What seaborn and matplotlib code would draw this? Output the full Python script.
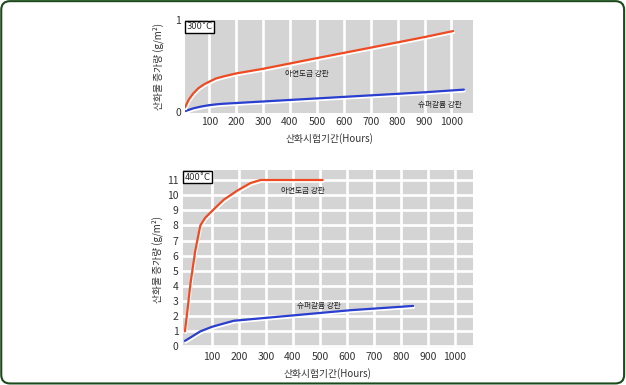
import numpy as np
import pandas as pd
import matplotlib
matplotlib.use('Agg')
import matplotlib.pyplot as plt
import matplotlib.patheffects as pe
from matplotlib.patches import FancyBboxPatch
import seaborn as sns

sns.set_style("darkgrid", {"axes.facecolor": "#d4d4d4", "grid.color": "white"})
plt.rcParams['font.family'] = ['Noto Sans CJK KR', 'DejaVu Sans']
plt.rcParams['axes.unicode_minus'] = False

# 300°C
hours_300_zinc = [10, 25, 40, 60, 80, 100, 125, 150, 200, 300, 500, 700, 900, 1006]
gain_300_zinc = [0.05, 0.14, 0.2, 0.26, 0.30, 0.33, 0.365, 0.385, 0.42, 0.47, 0.586, 0.70, 0.815, 0.88]
hours_300_super = [10, 40, 70, 100, 130, 150, 300, 600, 900, 1046]
gain_300_super = [0.01, 0.04, 0.06, 0.075, 0.085, 0.09, 0.115, 0.165, 0.215, 0.244]

# 400°C
hours_400_zinc = [0, 10, 20, 38, 57, 75, 100, 144, 194, 243, 280, 510]
gain_400_zinc = [1.0, 2.5, 4.1, 6.3, 8.0, 8.5, 8.95, 9.7, 10.3, 10.8, 11.0, 11.0]
hours_400_super = [0, 30, 57, 100, 140, 181, 243, 367, 491, 615, 739, 845]
gain_400_super = [0.37, 0.7, 1.0, 1.3, 1.5, 1.7, 1.8, 2.0, 2.2, 2.4, 2.55, 2.68]

x_ticks = list(range(100, 1001, 100))
label_zinc = '아연도금 강판'
label_super = '슈퍼갈륨 강판'
x_label = '산화시험기간(Hours)'
y_label = '산화물 증가량 (g/m²)'

orange = '#f04a23'
blue = '#2a3fd0'
shadow = [pe.SimpleLineShadow(offset=(0.6, -1.2), shadow_color='white', alpha=1), pe.Normal()]

fig = plt.figure(figsize=(6.26, 3.85), dpi=100)
fig.patch.set_facecolor('white')
ax1 = fig.add_axes([0.2955, 0.7065, 0.4601, 0.2415])
ax2 = fig.add_axes([0.292, 0.0961, 0.4636, 0.4623])


def draw(ax, hz, gz, hs, gs, pad):
    sns.lineplot(x=hs, y=gs, ax=ax, color=blue, lw=1.6, sort=False, path_effects=shadow)
    sns.lineplot(x=hz, y=gz, ax=ax, color=orange, lw=1.6, sort=False, path_effects=shadow)
    ax.set_xticks(x_ticks)
    ax.tick_params(length=0, labelsize=7.5, labelcolor='#333333', pad=3)
    ax.set_xlabel(x_label, fontsize=7, color='#333333', labelpad=4)
    ax.set_ylabel(y_label, fontsize=7, color='#333333', labelpad=pad)
    ax.grid(True, lw=1.9)
    for s in ax.spines.values():
        s.set_visible(False)


draw(ax1, hours_300_zinc, gain_300_zinc, hours_300_super, gain_300_super, 8)
ax1.set_xlim(10, 1080)
ax1.set_ylim(-0.01, 1.0)
ax1.set_yticks([0, 1])
ax1.yaxis.grid(False)
ax1.text(462, 0.41, label_zinc, fontsize=5.5, ha='center', va='center', color='#222222')
ax1.text(957, 0.08, label_super, fontsize=5.5, ha='center', va='center', color='#222222')
ax1.text(0.005, 0.975, '300˚C', transform=ax1.transAxes, fontsize=6, va='top', ha='left',
         family=['DejaVu Sans'], bbox=dict(boxstyle='square,pad=0.2', fc='white', ec='black', lw=1))

draw(ax2, hours_400_zinc, gain_400_zinc, hours_400_super, gain_400_super, 3)
ax2.set_xlim(-8, 1067)
ax2.set_ylim(-0.1, 11.66)
ax2.set_yticks(list(range(0, 12)))
ax2.text(435, 10.3, label_zinc, fontsize=5.5, ha='center', va='center', color='#222222')
ax2.text(497, 2.7, label_super, fontsize=5.5, ha='center', va='center', color='#222222')
ax2.text(0.005, 0.985, '400˚C', transform=ax2.transAxes, fontsize=6, va='top', ha='left',
         family=['DejaVu Sans'], bbox=dict(boxstyle='square,pad=0.2', fc='white', ec='black', lw=1))

frame = FancyBboxPatch((0.002, 0.004), 0.995, 0.993, boxstyle='round,pad=0,rounding_size=0.014',
                       transform=fig.transFigure, fc='none', ec='#1b4a1b', lw=1.5, mutation_aspect=1.6)
fig.patches.append(frame)

fig.savefig('out.png', dpi=100)
